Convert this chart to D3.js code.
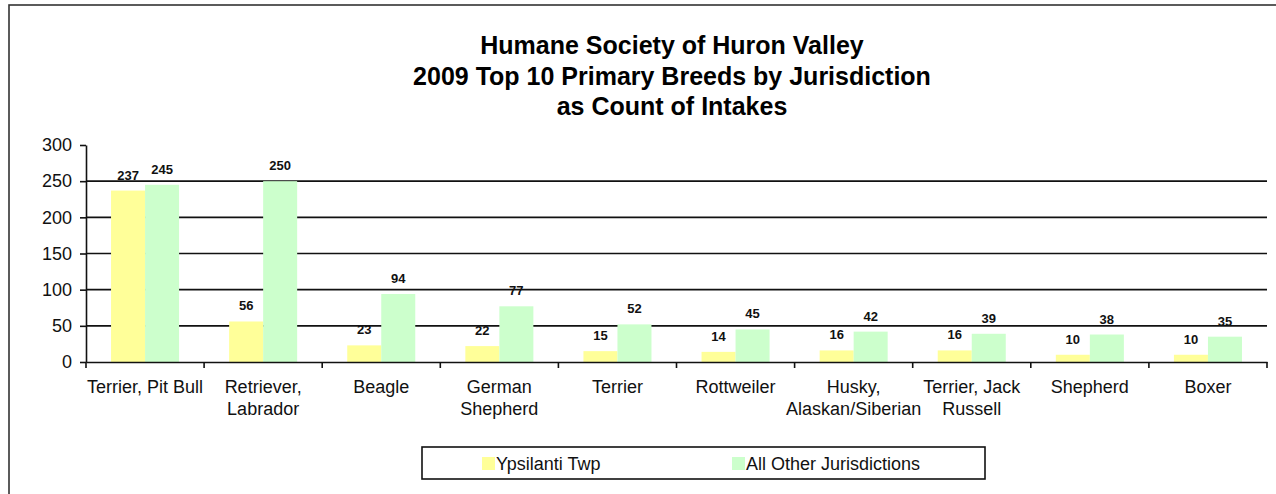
<!DOCTYPE html>
<html>
<head>
<meta charset="utf-8">
<script src="https://cdn.jsdelivr.net/npm/d3@7"></script>
<style>
  html, body { margin: 0; padding: 0; background: #fff; }
  svg { display: block; font-family: "Liberation Sans", Arial, sans-serif; }
</style>
</head>
<body>
<svg id="chart" width="1276" height="494"></svg>
<script>
// ---- data ----
const titleLines = ["Humane Society of Huron Valley", "2009 Top 10 Primary Breeds by Jurisdiction", "as Count of Intakes"];
const categories = ["Terrier, Pit Bull", "Retriever, Labrador", "Beagle", "German Shepherd", "Terrier", "Rottweiler", "Husky, Alaskan/Siberian", "Terrier, Jack Russell", "Shepherd", "Boxer"];
const categoryLines = [["Terrier, Pit Bull"], ["Retriever,", "Labrador"], ["Beagle"], ["German", "Shepherd"], ["Terrier"], ["Rottweiler"], ["Husky,", "Alaskan/Siberian"], ["Terrier, Jack", "Russell"], ["Shepherd"], ["Boxer"]];
const seriesNames = ["Ypsilanti Twp", "All Other Jurisdictions"];
const ypsilanti = [237, 56, 23, 22, 15, 14, 16, 16, 10, 10];
const allOther = [245, 250, 94, 77, 52, 45, 42, 39, 38, 35];
const yTicks = [0, 50, 100, 150, 200, 250, 300];
const colors = ["#FFFF99", "#CCFFCC"];

// ---- layout ----
const svg = d3.select("#chart");
const plot = { left: 86, right: 1267, top: 145, bottom: 362 };

const x0 = d3.scaleBand().domain(categories).range([plot.left, plot.right]).padding(0);
const x1 = d3.scaleBand().domain(seriesNames).range([0.212 * x0.bandwidth(), 0.788 * x0.bandwidth()]).padding(0);
const y = d3.scaleLinear().domain([0, 300]).range([plot.bottom, plot.top]);

// outer frame
svg.append("rect").attr("x", 9).attr("y", 5).attr("width", 1400).attr("height", 600)
  .attr("fill", "none").attr("stroke", "#333").attr("stroke-width", 1.6);

// title
svg.append("g").selectAll("text").data(titleLines).join("text")
  .attr("x", 672).attr("y", (d, i) => 54 + i * 30.5)
  .attr("text-anchor", "middle").attr("font-weight", "bold").attr("font-size", 25)
  .attr("fill", "#000").text(d => d);

// gridlines
svg.append("g").selectAll("line").data(yTicks.filter(t => t > 0 && t < 300)).join("line")
  .attr("x1", plot.left).attr("x2", plot.right)
  .attr("y1", d => y(d)).attr("y2", d => y(d))
  .attr("stroke", "#111").attr("stroke-width", 1.6);

// bars
const data = categories.map((c, i) => ({ cat: c, vals: [ypsilanti[i], allOther[i]] }));
const groups = svg.append("g").selectAll("g").data(data).join("g")
  .attr("transform", d => `translate(${x0(d.cat)},0)`);
groups.selectAll("rect").data(d => d.vals.map((v, j) => ({ s: seriesNames[j], v, j }))).join("rect")
  .attr("x", d => x1(d.s)).attr("width", x1.bandwidth())
  .attr("y", d => y(d.v)).attr("height", d => y(0) - y(d.v))
  .attr("fill", d => colors[d.j]);
groups.selectAll("text").data(d => d.vals.map((v, j) => ({ s: seriesNames[j], v, j }))).join("text")
  .attr("x", d => x1(d.s) + x1.bandwidth() / 2)
  .attr("y", d => y(d.v) - 11)
  .attr("text-anchor", "middle").attr("font-weight", "bold").attr("font-size", 13)
  .attr("fill", "#111").text(d => d.v);

// y axis
const yAxis = d3.axisLeft(y).tickValues(yTicks).tickSize(6).tickPadding(8).tickSizeOuter(0);
const gy = svg.append("g").attr("transform", `translate(${plot.left},0)`).call(yAxis);
gy.select(".domain").attr("stroke", "#111").attr("stroke-width", 1.6);
gy.selectAll(".tick line").attr("stroke", "#111").attr("stroke-width", 1.6);
gy.selectAll(".tick text").attr("font-size", 18).attr("fill", "#111")
  .attr("font-family", "'Liberation Sans', Arial, sans-serif");

// x axis line with ticks at category boundaries
const xAxis = d3.axisBottom(x0).tickSize(0).tickSizeOuter(0).tickFormat("");
const gx = svg.append("g").attr("transform", `translate(0,${plot.bottom})`).call(xAxis);
gx.select(".domain").attr("stroke", "#111").attr("stroke-width", 1.6);
const boundaries = categories.map(c => x0(c)).concat([x0.range()[1]]);
gx.selectAll(".bound").data(boundaries).join("line").attr("class", "bound")
  .attr("x1", d => d).attr("x2", d => d).attr("y1", 0).attr("y2", 6)
  .attr("stroke", "#111").attr("stroke-width", 1.6);

// category labels
const catG = svg.append("g").selectAll("text").data(categories).join("text")
  .attr("x", d => x0(d) + x0.bandwidth() / 2).attr("y", 393)
  .attr("text-anchor", "middle").attr("font-size", 18).attr("fill", "#111");
catG.each(function (d, i) {
  d3.select(this).selectAll("tspan").data(categoryLines[i]).join("tspan")
    .attr("x", x0(d) + x0.bandwidth() / 2)
    .attr("dy", (t, k) => k === 0 ? 0 : 22)
    .text(t => t);
});

// legend
const legend = svg.append("g");
legend.append("rect").attr("x", 422).attr("y", 447).attr("width", 563).attr("height", 32)
  .attr("fill", "#fff").attr("stroke", "#111").attr("stroke-width", 1.6);
const legendX = [482, 732];
const li = legend.selectAll("g").data(seriesNames).join("g")
  .attr("transform", (d, i) => `translate(${legendX[i]},0)`);
li.append("rect").attr("x", 0).attr("y", 457).attr("width", 13).attr("height", 13)
  .attr("fill", (d, i) => colors[i]);
li.append("text").attr("x", 14).attr("y", 470).attr("font-size", 18).attr("fill", "#111").text(d => d);
</script>
</body>
</html>
